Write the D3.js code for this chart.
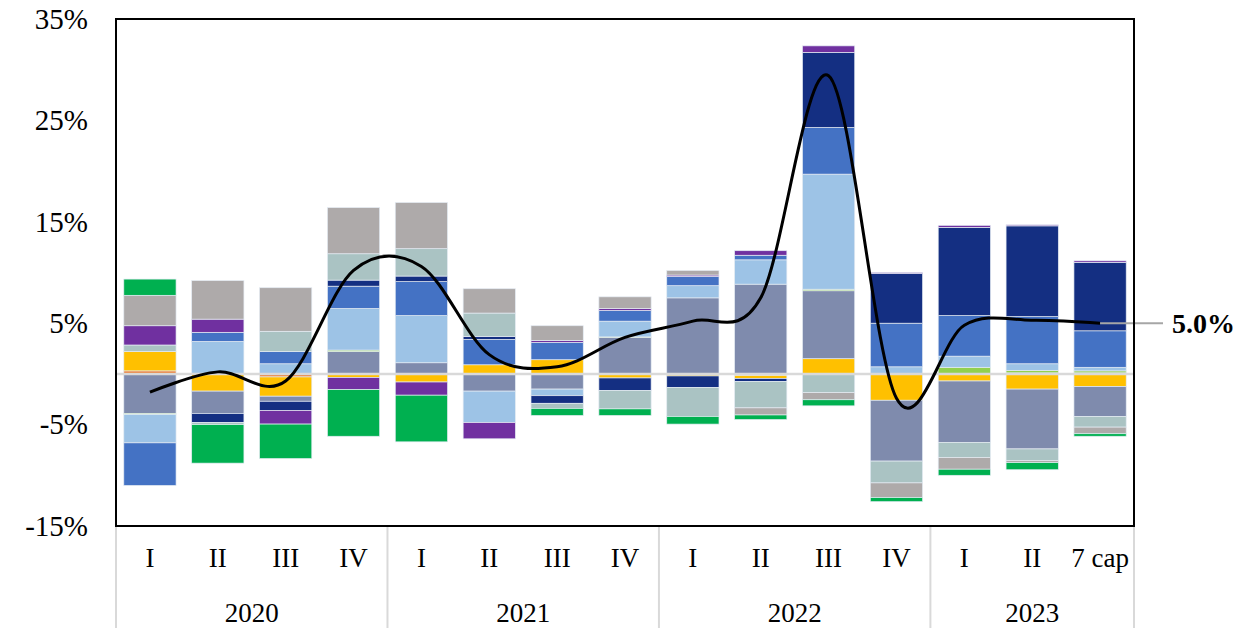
<!DOCTYPE html>
<html>
<head>
<meta charset="utf-8">
<script src="https://cdn.jsdelivr.net/npm/d3@7"></script>
<style>
  body { margin: 0; background: #fff; }
  svg text { font-family: "Liberation Serif", "Times New Roman", serif; }
</style>
</head>
<body>
<svg id="chart" width="1240" height="628"></svg>
<script>
// categories
const quarters = ["I", "II", "III", "IV", "I", "II", "III", "IV", "I", "II", "III", "IV", "I", "II", "7 cap"]
const years = ["2020", "2021", "2022", "2023"]
const yearOf = ["2020", "2020", "2020", "2020", "2021", "2021", "2021", "2021",
                "2022", "2022", "2022", "2022", "2023", "2023", "2023"]
const yTicks = [-15, -5, 5, 15, 25, 35]

// contributions, % (stack order from zero outwards)
const orange     = [0.3, 0, -0.3, 0, 0, 0, 0, 0, 0, -0.15, 0, 0, 0, 0.1, 0.1]
const yellow     = [1.9, -1.7, -1.9, -0.35, -0.8, 0.9, 1.4, -0.4, -0.2, -0.3, 1.5, -2.6, -0.7, -1.5, -1.25]
const slate      = [-3.9, -2.2, -0.5, 2.2, 1.1, -1.7, -1.5, 3.6, 7.5, 8.85, 6.7, -6.0, -6.05, -5.9, -2.95]
const lightgreen = [-0.1, 0, 0, 0.15, 0, 0, 0, 0.05, 0, 0, 0.15, 0, 0.65, 0.25, 0.2]
const lightblue  = [-2.8, 3.2, 1.0, 4.1, 4.65, -3.1, -0.65, 1.55, 1.2, 2.4, 11.35, 0.7, 1.1, 0.65, 0.35]
const blue       = [-4.2, 0.9, 1.2, 2.2, 3.35, 2.5, 1.7, 1.05, 0.9, 0.45, 4.6, 4.3, 4.0, 4.65, 3.6]
const navy       = [0, -0.9, -0.9, 0.6, 0.55, 0.3, -0.75, -1.25, -1.15, -0.3, 7.4, 4.9, 8.7, 8.95, 6.75]
const teal       = [0.65, -0.2, 2.0, 2.6, 2.7, 2.3, -0.5, -1.8, -2.85, -2.6, -1.85, -2.15, -1.5, -1.15, -1.05]
const purple     = [1.9, 1.3, -1.35, -1.2, -1.3, -1.6, 0.2, 0.2, 0.15, 0.45, 0.65, 0.1, 0.2, 0.1, 0.15]
const gray       = [3.0, 3.8, 4.3, 4.55, 4.55, 2.4, 1.45, 1.15, 0.45, -0.7, -0.7, -1.45, -1.15, -0.2, -0.65]
const green      = [1.6, -3.8, -3.4, -4.6, -4.6, 0, -0.7, -0.65, -0.75, -0.45, -0.6, -0.4, -0.6, -0.7, -0.25]

// total, % (black line)
const total = [-1.8, 0.2, -0.7, 10.2, 10.6, 1.9, 0.7, 3.6, 5.2, 7.5, 29.4, -2.4, 4.8, 5.3, 5.0]
const lastLabel = "5.0%"

const series = [
    { key: "orange", values: orange, color: "#ED7D31" },
    { key: "yellow", values: yellow, color: "#FFC000" },
    { key: "slate", values: slate, color: "#7F8BAD" },
    { key: "lightgreen", values: lightgreen, color: "#92D050" },
    { key: "lightblue", values: lightblue, color: "#9DC3E6" },
    { key: "blue", values: blue, color: "#4472C4" },
    { key: "navy", values: navy, color: "#142F82" },
    { key: "teal", values: teal, color: "#AAC3C3" },
    { key: "purple", values: purple, color: "#7030A0" },
    { key: "gray", values: gray, color: "#AEAAAA" },
    { key: "green", values: green, color: "#00B050" }
]

const margin = { top: 19, right: 106, bottom: 102, left: 116 }
const width = 1240 - margin.left - margin.right
const height = 628 - margin.top - margin.bottom

const svg = d3.select("#chart")
const g = svg.append("g").attr("transform", "translate(" + margin.left + "," + margin.top + ")")

const idx = quarters.map((q, i) => i)
const x = d3.scaleBand().domain(idx).range([0, width]).paddingInner(0.23).paddingOuter(0.115)
const y = d3.scaleLinear().domain([-15, 35]).range([height, 0])

const rows = idx.map(i => {
    let r = { i: i }
    series.forEach(s => { r[s.key] = s.values[i] })
    return r
})
const stacked = d3.stack()
    .keys(series.map(s => s.key))
    .offset(d3.stackOffsetDiverging)(rows)

// bars
g.append("g")
    .selectAll("g")
    .data(stacked)
    .enter()
    .append("g")
    .attr("fill", (d, k) => series[k].color)
    .selectAll("rect")
    .data(d => d.filter(p => p[1] - p[0] !== 0))
    .enter()
    .append("rect")
    .attr("x", d => x(d.data.i))
    .attr("width", x.bandwidth())
    .attr("y", d => y(Math.max(d[0], d[1])))
    .attr("height", d => Math.abs(y(d[0]) - y(d[1])))
    .attr("stroke", "#e4ebf3")
    .attr("stroke-width", 0.7)

// zero line
g.append("line")
    .attr("x1", 0).attr("x2", width)
    .attr("y1", y(0)).attr("y2", y(0))
    .attr("stroke", "#d9d9d9")
    .attr("stroke-width", 2.5)

// total line
const cx = i => x(i) + x.bandwidth() / 2
const line = d3.line()
    .x((d, i) => cx(i))
    .y(d => y(d))
    .curve(d3.curveCatmullRom.alpha(0))

g.append("path")
    .datum(total)
    .attr("d", line)
    .attr("fill", "none")
    .attr("stroke", "#000")
    .attr("stroke-width", 3)

// leader + label for the last point
const last = total.length - 1
g.append("line")
    .attr("x1", cx(last)).attr("x2", width + 29)
    .attr("y1", y(total[last])).attr("y2", y(total[last]))
    .attr("stroke", "#a6a6a6")
    .attr("stroke-width", 2)

g.append("text")
    .attr("x", width + 38)
    .attr("y", y(total[last]))
    .attr("dy", "0.35em")
    .attr("font-size", 28)
    .attr("font-weight", "bold")
    .text(lastLabel)

// frame
g.append("rect")
    .attr("width", width)
    .attr("height", height)
    .attr("fill", "none")
    .attr("stroke", "#000")
    .attr("stroke-width", 2)

// y axis
const yAxis = g.append("g")
    .call(d3.axisLeft(y).tickValues(yTicks).tickSize(0).tickPadding(28).tickFormat(d => d + "%"))
yAxis.select(".domain").remove()
yAxis.selectAll("text")
    .attr("font-size", 29)
    .attr("fill", "#000")
    .style("font-family", "Liberation Serif")

// quarter labels
const xAxis = g.append("g")
    .attr("transform", "translate(0," + height + ")")
    .call(d3.axisBottom(x).tickSize(0).tickPadding(22).tickFormat(i => quarters[i]))
xAxis.select(".domain").remove()
xAxis.selectAll("text")
    .attr("font-size", 27)
    .attr("fill", "#000")
    .style("font-family", "Liberation Serif")

// year groups
const step = x.step()
years.forEach(yr => {
    const first = yearOf.indexOf(yr)
    const n = yearOf.filter(v => v === yr).length
    const left = first * step
    const right = (first + n) * step
    g.append("text")
        .attr("x", (left + right) / 2)
        .attr("y", height + 96)
        .attr("text-anchor", "middle")
        .attr("font-size", 27)
        .text(yr)
})
const seps = [0]
years.forEach(yr => { seps.push((yearOf.lastIndexOf(yr) + 1) * step) })
g.append("g")
    .selectAll("line")
    .data(seps)
    .enter()
    .append("line")
    .attr("x1", d => d).attr("x2", d => d)
    .attr("y1", height + 1).attr("y2", height + margin.bottom)
    .attr("stroke", "#d9d9d9")
    .attr("stroke-width", 2)
</script>
</body>
</html>
